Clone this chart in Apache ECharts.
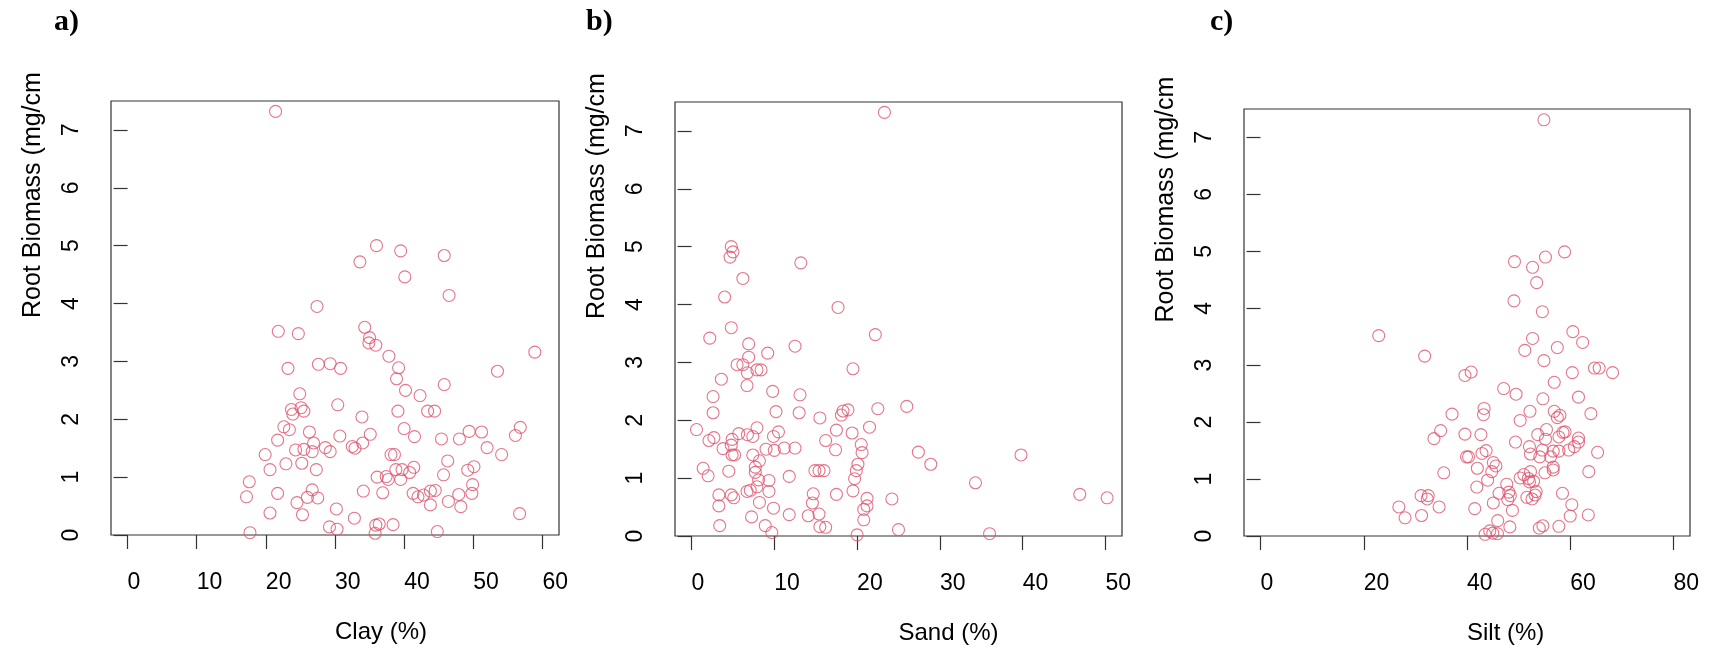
<!DOCTYPE html>
<html>
<head>
<meta charset="utf-8">
<script src="https://cdn.jsdelivr.net/npm/echarts@6/dist/echarts.min.js"></script>
<style>
html,body{margin:0;padding:0;background:#fff;}
#chart{width:1713px;height:650px;}
</style>
</head>
<body>
<div id="chart"></div>
<script>
// ---- data ----
const clay = [21.4,36.0,39.5,45.8,33.6,40.1,46.5,27.4,34.3,21.8,24.7,35.0,34.9,35.9,58.9,37.8,27.6,29.3,30.8,23.2,39.2,53.5,38.9,45.8,40.2,24.9,42.3,30.4,25.1,23.7,25.5,23.9,39.1,43.4,44.4,33.9,22.6,23.4,40.0,26.3,35.1,49.4,51.2,56.8,56.1,30.7,41.5,21.7,45.4,48.0,26.9,34.0,28.6,32.5,32.9,52.0,24.3,25.5,26.7,29.3,19.9,38.1,38.6,54.1,46.3,22.9,25.2,20.6,27.3,38.8,39.7,40.8,41.4,49.2,50.1,37.4,36.1,37.7,39.5,45.7,17.6,49.9,26.7,34.1,21.7,36.9,41.3,42.0,42.8,43.8,44.5,47.9,49.8,17.2,26.0,27.5,24.5,46.4,43.8,48.2,30.2,20.6,25.3,56.7,32.8,29.2,30.3,35.9,36.4,38.4,17.7,44.8,35.8];
const biomassClay = [7.32,5.0,4.91,4.83,4.72,4.46,4.14,3.95,3.59,3.52,3.48,3.41,3.32,3.28,3.16,3.09,2.95,2.96,2.88,2.88,2.89,2.83,2.70,2.60,2.50,2.44,2.41,2.25,2.20,2.17,2.14,2.09,2.14,2.14,2.14,2.04,1.87,1.82,1.84,1.78,1.74,1.79,1.78,1.86,1.72,1.71,1.70,1.64,1.66,1.66,1.59,1.59,1.51,1.53,1.50,1.51,1.47,1.48,1.44,1.44,1.39,1.39,1.39,1.39,1.28,1.23,1.24,1.13,1.13,1.13,1.13,1.08,1.17,1.12,1.18,1.01,1.00,0.96,0.96,1.04,0.92,0.87,0.78,0.76,0.72,0.73,0.72,0.66,0.69,0.76,0.77,0.70,0.72,0.66,0.65,0.64,0.56,0.58,0.52,0.49,0.45,0.38,0.35,0.37,0.29,0.14,0.10,0.17,0.19,0.18,0.04,0.06,0.03];

const sand = [23.3,4.8,5.0,4.65,13.2,6.2,4.0,17.7,4.8,22.2,2.2,6.9,12.5,9.2,6.9,5.5,6.2,19.5,7.9,8.4,6.75,3.6,6.7,9.8,13.1,2.6,26.0,22.5,18.9,18.3,18.1,2.6,10.2,13.0,15.5,0.6,21.5,7.9,17.5,10.5,5.7,19.4,6.75,7.4,9.9,2.7,4.9,2.1,16.2,4.8,20.5,3.8,9.0,11.2,12.5,17.4,10.0,27.4,20.6,4.9,5.2,7.4,39.8,8.2,28.9,20.1,7.7,1.4,19.9,14.9,15.4,16.0,4.5,7.7,2.0,11.8,19.7,8.1,9.35,34.3,7.9,19.5,9.35,6.7,7.1,14.7,17.5,46.9,3.3,4.8,5.1,50.2,21.2,24.2,8.2,14.6,3.3,21.2,20.8,9.9,15.4,11.8,14.1,7.25,20.8,3.4,8.9,15.5,16.2,25.0,9.7,20.0,36.0];
const biomassSand = [7.32,5.0,4.91,4.82,4.72,4.45,4.13,3.95,3.60,3.48,3.42,3.32,3.28,3.16,3.09,2.96,2.96,2.89,2.87,2.87,2.82,2.71,2.60,2.50,2.44,2.41,2.24,2.20,2.18,2.16,2.09,2.13,2.15,2.13,2.04,1.84,1.88,1.87,1.83,1.80,1.77,1.78,1.75,1.72,1.72,1.70,1.67,1.65,1.65,1.57,1.58,1.51,1.50,1.52,1.52,1.49,1.48,1.45,1.44,1.40,1.40,1.40,1.40,1.30,1.24,1.24,1.19,1.17,1.13,1.13,1.13,1.13,1.12,1.10,1.04,1.03,0.99,0.97,0.96,0.92,0.85,0.78,0.77,0.77,0.79,0.73,0.72,0.72,0.71,0.71,0.66,0.66,0.65,0.64,0.58,0.57,0.52,0.52,0.46,0.48,0.38,0.37,0.35,0.33,0.28,0.18,0.18,0.16,0.15,0.11,0.06,0.02,0.04];

const silt = [54.9,58.9,55.2,49.2,52.7,53.5,49.1,54.6,22.9,60.5,62.4,52.7,57.5,51.2,31.8,54.9,64.7,65.6,68.2,60.4,40.8,39.6,56.9,47.1,49.5,61.6,54.7,43.3,52.2,56.9,58.0,57.5,37.1,43.2,64.0,50.3,34.9,55.4,39.6,42.7,53.7,59.0,58.6,33.6,55.2,57.8,61.6,49.4,61.6,52.1,60.8,59.7,54.6,56.7,57.8,43.7,42.9,52.3,65.3,39.9,40.3,54.1,56.2,45.1,45.6,42.0,56.7,56.7,35.5,52.3,55.1,63.6,44.8,51.0,50.3,44.0,51.9,52.1,52.9,47.7,41.9,48.1,46.2,58.5,53.4,48.4,53.2,31.1,32.5,32.3,47.9,51.6,52.6,45.1,60.3,26.8,34.6,41.5,48.8,28.0,31.2,60.0,63.5,45.95,48.3,54.0,54.7,57.8,44.4,45.0,45.9,43.5];
const biomassSilt = [7.31,4.99,4.90,4.82,4.72,4.45,4.13,3.94,3.52,3.59,3.40,3.47,3.31,3.26,3.16,3.08,2.95,2.95,2.87,2.87,2.88,2.82,2.70,2.59,2.49,2.44,2.41,2.24,2.19,2.19,2.12,2.08,2.14,2.13,2.15,2.03,1.85,1.87,1.79,1.78,1.78,1.83,1.82,1.71,1.70,1.74,1.72,1.65,1.65,1.57,1.57,1.51,1.51,1.49,1.49,1.50,1.45,1.44,1.47,1.39,1.39,1.39,1.39,1.29,1.23,1.19,1.21,1.16,1.11,1.13,1.11,1.13,1.13,1.08,1.02,0.98,1.01,0.95,0.96,0.91,0.86,0.77,0.75,0.75,0.78,0.71,0.72,0.71,0.71,0.65,0.64,0.68,0.65,0.58,0.55,0.51,0.51,0.48,0.45,0.32,0.36,0.35,0.37,0.27,0.16,0.14,0.18,0.17,0.09,0.05,0.04,0.03];

const clayTicks = [0,10,20,30,40,50,60];
const sandTicks = [0,10,20,30,40,50];
const siltTicks = [0,20,40,60,80];
const biomassTicks = [0,1,2,3,4,5,6,7];

const panelTitles = ['a)','b)','c)'];
const xNames = ['Clay (%)','Sand (%)','Silt (%)'];
const yName = 'Root Biomass (mg/cm³)';

// ---- layout ----
const panels = [
  {x: clay, y: biomassClay, ticks: clayTicks, xmin: -2.4, xmax: 62.4,
   grid: {left: 111, top: 101, width: 448, height: 434}, titleLeft: 49},
  {x: sand, y: biomassSand, ticks: sandTicks, xmin: -2, xmax: 52,
   grid: {left: 675, top: 102, width: 447, height: 439}, titleLeft: 581},
  {x: silt, y: biomassSilt, ticks: siltTicks, xmin: -3.2, xmax: 83.2,
   grid: {left: 1244, top: 109, width: 446, height: 433}, titleLeft: 1205}
];

const FONT = "'Liberation Sans', Arial, Helvetica, sans-serif";
const RED = '#DF536B';
const AX = '#333';

const grids = [], xAxes = [], yAxes = [], series = [], titles = [];
panels.forEach((p, i) => {
  grids.push(Object.assign({show: true, borderColor: AX, borderWidth: 1.2,
    backgroundColor: 'transparent', containLabel: false}, p.grid));
  xAxes.push({
    type: 'value', gridIndex: i, min: p.xmin, max: p.xmax,
    splitLine: {show: false},
    axisLine: {show: false},
    axisTick: {show: true, length: 14, customValues: p.ticks,
      lineStyle: {color: AX, width: 1.2}},
    axisLabel: {show: true, customValues: p.ticks, margin: 36, align: 'left',
      fontFamily: FONT, fontSize: 23, color: '#000'},
    name: xNames[i], nameLocation: 'middle', nameGap: 85,
    nameTextStyle: {align: 'left', fontFamily: FONT, fontSize: 24, color: '#000'}
  });
  yAxes.push({
    type: 'value', gridIndex: i, min: 0, max: 7.5,
    splitLine: {show: false},
    axisLine: {show: false},
    axisTick: {show: true, length: 14, customValues: biomassTicks,
      lineStyle: {color: AX, width: 1.2}},
    axisLabel: {show: true, customValues: biomassTicks, rotate: 90, margin: 28,
      fontFamily: FONT, fontSize: 23, color: '#000'},
    name: yName, nameLocation: 'middle', nameGap: 65,
    nameTruncate: {maxWidth: 250, ellipsis: ''},
    nameTextStyle: {align: 'left', fontFamily: FONT, fontSize: 25, color: '#000'}
  });
  series.push({
    type: 'scatter', xAxisIndex: i, yAxisIndex: i,
    data: p.x.map((v, k) => [v, p.y[k]]),
    symbol: 'circle', symbolSize: 12,
    itemStyle: {color: 'transparent', borderColor: RED, borderWidth: 1.1},
    silent: true
  });
  titles.push({text: panelTitles[i], left: p.titleLeft, top: 2,
    textStyle: {fontFamily: "'Liberation Serif', 'Times New Roman', serif",
      fontWeight: 'bold', fontSize: 30, color: '#000'}});
});

const chart = echarts.init(document.getElementById('chart'), null, {renderer: 'canvas'});
chart.setOption({
  animation: false,
  backgroundColor: '#fff',
  title: titles,
  grid: grids,
  xAxis: xAxes,
  yAxis: yAxes,
  series: series
});
</script>
</body>
</html>
